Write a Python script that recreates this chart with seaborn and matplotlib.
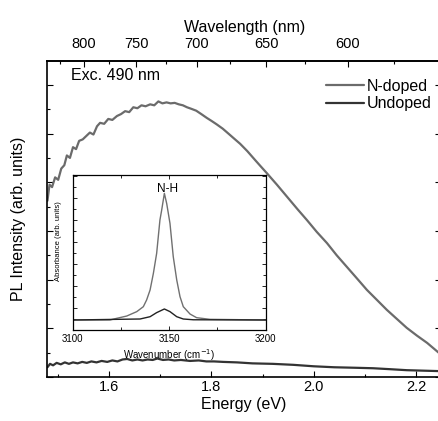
import matplotlib
matplotlib.use("Agg")
import matplotlib.pyplot as plt
from matplotlib.ticker import MultipleLocator, FixedLocator
import numpy as np
import seaborn as sns

### Dados (PL)
energia_ndop = [1.479, 1.483, 1.488, 1.494, 1.500, 1.506, 1.512, 1.517, 1.523, 1.529,
                1.535, 1.541, 1.548, 1.555, 1.562, 1.569, 1.576, 1.582, 1.590, 1.598,
                1.606, 1.615, 1.623, 1.631, 1.639, 1.647, 1.655, 1.663, 1.671, 1.680,
                1.688, 1.696, 1.704, 1.712, 1.720, 1.728, 1.736, 1.744, 1.752, 1.760,
                1.770, 1.780, 1.791, 1.800, 1.810, 1.822, 1.833, 1.845, 1.856, 1.870,
                1.885, 1.896, 1.908, 1.928, 1.948, 1.968, 1.987, 2.006, 2.026, 2.045,
                2.065, 2.085, 2.104, 2.124, 2.143, 2.163, 2.182, 2.202, 2.222, 2.249]
pl_ndop = [3.62, 3.95, 3.90, 4.10, 4.05, 4.28, 4.35, 4.55, 4.50, 4.72,
           4.68, 4.85, 4.88, 4.95, 5.02, 4.98, 5.15, 5.22, 5.20, 5.30,
           5.28, 5.36, 5.40, 5.46, 5.44, 5.54, 5.52, 5.58, 5.56, 5.60,
           5.58, 5.66, 5.62, 5.64, 5.62, 5.63, 5.60, 5.58, 5.54, 5.51,
           5.47, 5.40, 5.32, 5.26, 5.19, 5.10, 5.00, 4.89, 4.79, 4.64,
           4.46, 4.33, 4.19, 3.95, 3.70, 3.45, 3.22, 2.98, 2.75, 2.50,
           2.26, 2.02, 1.79, 1.58, 1.38, 1.19, 1.01, 0.85, 0.70, 0.46]
energia_undop = [1.479, 1.484, 1.490, 1.497, 1.505, 1.513, 1.521, 1.529, 1.538, 1.547,
                 1.556, 1.565, 1.575, 1.585, 1.596, 1.606, 1.616, 1.626, 1.635, 1.645,
                 1.655, 1.665, 1.675, 1.685, 1.694, 1.705, 1.716, 1.727, 1.740, 1.758,
                 1.775, 1.790, 1.805, 1.823, 1.850, 1.880, 1.920, 1.960, 2.000, 2.040,
                 2.080, 2.116, 2.150, 2.182, 2.215, 2.249]
pl_undop = [0.20, 0.27, 0.24, 0.29, 0.26, 0.30, 0.27, 0.30, 0.28, 0.31,
            0.29, 0.32, 0.30, 0.33, 0.31, 0.34, 0.32, 0.36, 0.37, 0.34,
            0.36, 0.34, 0.36, 0.35, 0.38, 0.35, 0.36, 0.34, 0.35, 0.33,
            0.34, 0.32, 0.32, 0.31, 0.30, 0.28, 0.27, 0.25, 0.22, 0.20,
            0.19, 0.18, 0.16, 0.14, 0.13, 0.12]

### Dados do inset (absorbância)
onda_ndop = [3100, 3119.3, 3122.8, 3128.0, 3133.2, 3136.6, 3138.3, 3140.1, 3141.8, 3143.5,
             3145.2, 3146.1, 3147.5, 3148.7, 3150.4, 3152.1, 3153.9, 3155.6, 3157.3, 3160.8,
             3164.2, 3171.1, 3200]
abs_ndop = [0.91, 0.91, 1.06, 1.27, 1.67, 2.12, 2.73, 3.64, 5.15, 6.97,
            10.0, 10.9, 12.42, 11.5, 9.7, 6.67, 4.55, 3.03, 2.12, 1.45,
            1.12, 0.97, 0.91]
onda_undop = [3100, 3134.9, 3140.1, 3143.5, 3147.5, 3150.4, 3153.9, 3157.3, 3162.5, 3200]
abs_undop = [0.91, 1.00, 1.21, 1.58, 1.91, 1.67, 1.21, 1.00, 0.93, 0.91]

### Eixo superior
comprimentos = [600, 650, 700, 750, 800]
comprimentos_menores = [575, 625, 675, 725, 775, 825]

sns.set_style("ticks")
plt.rcParams["font.family"] = ["Liberation Sans", "DejaVu Sans"]
plt.rcParams["axes.linewidth"] = 1.2
for chave in ["text.color", "axes.labelcolor", "axes.edgecolor", "xtick.color", "ytick.color"]:
    plt.rcParams[chave] = "black"

cor_ndop = "#6b6b6b"
cor_undop = "#333333"

fig = plt.figure(figsize = (4.39, 4.21), dpi = 100)
ax = fig.add_axes([47.3/439, 1 - 377/421, (441 - 47.3)/439, 316/421])

sns.lineplot(x = energia_ndop, y = pl_ndop, color = cor_ndop, linewidth = 1.6, label = "N-doped", ax = ax)
sns.lineplot(x = energia_undop, y = pl_undop, color = cor_undop, linewidth = 1.6, label = "Undoped", ax = ax)

ax.set_xlim(1.4787, 2.2491)
ax.set_ylim(0, 6.49)
ax.xaxis.set_major_locator(MultipleLocator(0.2))
ax.xaxis.set_minor_locator(MultipleLocator(0.1))
ax.yaxis.set_major_locator(MultipleLocator(1))
ax.yaxis.set_minor_locator(MultipleLocator(0.5))
ax.tick_params(which = "both", direction = "in", left = True, right = True, top = False,
               labelleft = False, width = 0.8, labelsize = 10.5, pad = 2)
ax.tick_params(which = "major", length = 4.5)
ax.tick_params(which = "minor", length = 2.5)
ax.set_xlabel("Energy (eV)", fontsize = 11.5, labelpad = 2)
ax.set_ylabel("PL Intensity (arb. units)", fontsize = 11.5)
ax.yaxis.set_label_coords(-0.054, 0.5)

### Comprimento de onda no topo
def e_para_l(x):
    x = np.asarray(x, dtype = float)
    with np.errstate(divide = "ignore"):
        return 1239.84 / x

sec = ax.secondary_xaxis("top", functions = (e_para_l, e_para_l))
sec.set_xticks(comprimentos)
sec.xaxis.set_minor_locator(FixedLocator(comprimentos_menores))
sec.tick_params(which = "both", direction = "in", width = 0.8, labelsize = 10.5, pad = 7)
sec.tick_params(which = "major", length = 4.5)
sec.tick_params(which = "minor", length = 2.5)
sec.set_xlabel("Wavelength (nm)", fontsize = 11.5, labelpad = 4)

ax.legend(loc = "upper right", bbox_to_anchor = (432/439, 1 - 79/421), bbox_transform = fig.transFigure,
          frameon = False, fontsize = 11.5, handlelength = 2.4, handletextpad = 0.2,
          labelspacing = 0.15, borderpad = 0, borderaxespad = 0)
fig.text(71/439, 1 - 75/421, "Exc. 490 nm", ha = "left", va = "center", fontsize = 11.5)

### Inset
ax_in = fig.add_axes([72.7/439, 1 - 330/421, 193/439, 155/421])
sns.lineplot(x = onda_ndop, y = abs_ndop, color = "#707070", linewidth = 1.0, ax = ax_in, legend = False)
sns.lineplot(x = onda_undop, y = abs_undop, color = "#222222", linewidth = 1.0, ax = ax_in, legend = False)
ax_in.set_xlim(3100, 3200)
ax_in.set_ylim(0, 14.09)
ax_in.xaxis.set_major_locator(MultipleLocator(50))
ax_in.xaxis.set_minor_locator(MultipleLocator(25))
ax_in.yaxis.set_major_locator(MultipleLocator(2))
ax_in.yaxis.set_minor_locator(MultipleLocator(1))
ax_in.tick_params(which = "both", direction = "in", top = True, right = True, labelleft = False,
                  width = 0.6, labelsize = 7, pad = 3)
ax_in.tick_params(which = "major", length = 3)
ax_in.tick_params(which = "minor", length = 2)
for s in ax_in.spines.values():
    s.set_linewidth(0.9)
ax_in.set_xlabel("Wavenumber (cm$^{-1}$)", fontsize = 7, labelpad = 2)
ax_in.set_ylabel("Absorbance (arb. units)", fontsize = 5.5)
ax_in.yaxis.set_label_coords(-0.055, 0.574)
ax_in.text(3149.1, 12.8, "N-H", ha = "center", va = "center", fontsize = 8.5)

fig.savefig("out.png", dpi = 100)
